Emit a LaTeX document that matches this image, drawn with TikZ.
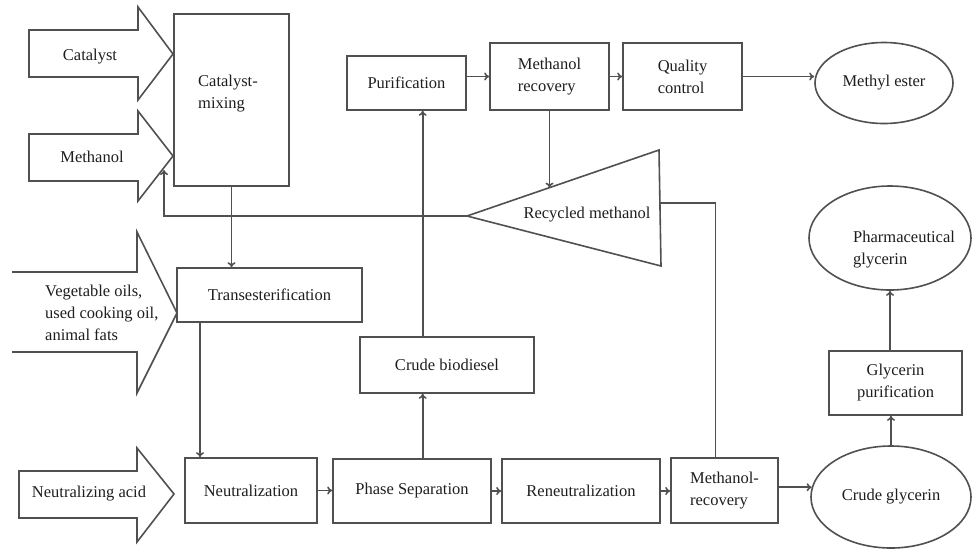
\documentclass[tikz,border=0pt]{standalone}
\usepackage{fontspec}
\setmainfont{Liberation Serif}
\newfontfamily\diagfont{Liberation Serif}
\usetikzlibrary{arrows.meta,shapes.geometric}
\definecolor{lncol}{RGB}{80,80,80}
\definecolor{txcol}{RGB}{30,30,30}
\begin{document}
\begin{tikzpicture}[x=1pt,y=-1pt,
  ln/.style={draw=lncol, line width=1.6pt, line join=miter},
  arr/.style={ln, -{To[length=5pt,width=8pt]}},
  lbl/.style={font=\diagfont\fontsize{16.5}{22}\selectfont, text=txcol, inner sep=0pt},
  box/.style 2 args={ln, lbl, rectangle, fill=white, minimum width=#1pt, minimum height=#2pt},
  ell/.style 2 args={ln, lbl, ellipse, fill=white, minimum width=#1pt, minimum height=#2pt}]
\useasboundingbox (0,0) rectangle (972,550);

% input arrows
\draw[ln] (29,30) -- (138,30) -- (138,7) -- (173,54) -- (138,100) -- (138,77) -- (29,77) -- cycle;
\node[lbl] (catin) at (90,57) {Catalyst};
\draw[ln] (29,134) -- (138,134) -- (138,111) -- (173,156) -- (138,201) -- (138,181) -- (29,181) -- cycle;
\node[lbl] (methin) at (92,157) {Methanol};
\draw[ln] (12,272) -- (137,272) -- (137,232) -- (177,313) -- (137,393) -- (137,352) -- (12,352);
\node[lbl, align=left, anchor=west] (oilin) at (45,313) {Vegetable oils,\\used cooking oil,\\animal fats};
\draw[ln] (19,471) -- (137,471) -- (137,448) -- (174,494) -- (137,542) -- (137,518) -- (19,518) -- cycle;
\node[lbl] (acidin) at (89,494) {Neutralizing acid};

% boxes
\node[box={115}{172}] (mix) at (231.5,100) {};
\node[lbl, align=left] (mixtxt) at (228,94) {Catalyst-\\mixing};
\node[box={185}{54}] (trans) at (269.5,295) {Transesterification};
\node[box={132}{65}] (neut) at (251,490.5) {Neutralization};
\node[box={158}{64}] (phase) at (412,491) {Phase Separation};
\node[box={158}{64}] (reneut) at (581,491) {Reneutralization};
\node[box={107}{65}, align=left] (mrec2) at (724.5,490.5) {Methanol-\\recovery};
\node[box={174}{56}] (crudeb) at (447,365) {Crude biodiesel};
\node[box={119}{54}] (purif) at (406.5,83) {Purification};
\node[box={119}{67}, align=left] (mrec1) at (549.5,76.5) {Methanol\\recovery};
\node[box={119}{67}, align=left] (qc) at (682.5,76.5) {Quality\\control};
\node[box={133}{64}, align=center] (gpur) at (895.5,383) {Glycerin\\purification};
\node[ell={138}{81}] (mester) at (884,83) {Methyl ester};
\node[ell={160}{102}] (cglyc) at (891,497) {Crude glycerin};
\node[ell={162}{104}] (pglyc) at (890,238) {};
\node[lbl, align=left, anchor=west] (pglyctxt) at (853,250) {Pharmaceutical\\glycerin};

% recycled methanol triangle
\coordinate (rtip) at (467,216);
\coordinate (rtr) at (659,150);
\coordinate (rbr) at (661,266);
\draw[ln] (rtip) -- (rtr) -- (rbr) -- cycle;
\node[lbl] (rmeth) at (587,215) {Recycled methanol};

% helper coordinates
\coordinate (vx) at (422.7,300);
\coordinate (tnx) at (200,300);
\coordinate (rtop) at (549.5,187.6);
\coordinate (rcorner) at (164,216);
\coordinate (mjoin) at (164,170);
\coordinate (rright) at (660,203);
\coordinate (rdown) at (715.5,300);

% connectors
\draw[arr] (mix.south) -- (trans.north -| mix.south);
\draw[arr] (trans.south -| tnx) -- (neut.north -| tnx);
\draw[arr] (neut.east) -- (neut.east -| phase.west);
\draw[arr] (phase.east) -- (phase.east -| reneut.west);
\draw[arr] (reneut.east) -- (reneut.east -| mrec2.west);
\draw[arr] (mrec2.east |- cglyc.173) -- (cglyc.173);
\draw[arr] (cglyc.north) -- (cglyc.north |- gpur.south);
\draw[arr] (pglyc.south |- gpur.north) -- (pglyc.south);
\draw[arr] (phase.north -| vx) -- (crudeb.south -| vx);
\draw[arr] (crudeb.north -| vx) -- (purif.south -| vx);
\draw[arr] (purif.east |- mrec1.west) -- (mrec1.west);
\draw[arr] (mrec1.east) -- (qc.west);
\draw[arr] (qc.east) -- (qc.east -| mester.west);
\draw[arr] (mrec1.south) -- (rtop);
\draw[arr] (rtip) -- (rcorner) -- (mjoin);
\draw[ln] (rright) -| (mrec2.north -| rdown);
\end{tikzpicture}
\end{document}
